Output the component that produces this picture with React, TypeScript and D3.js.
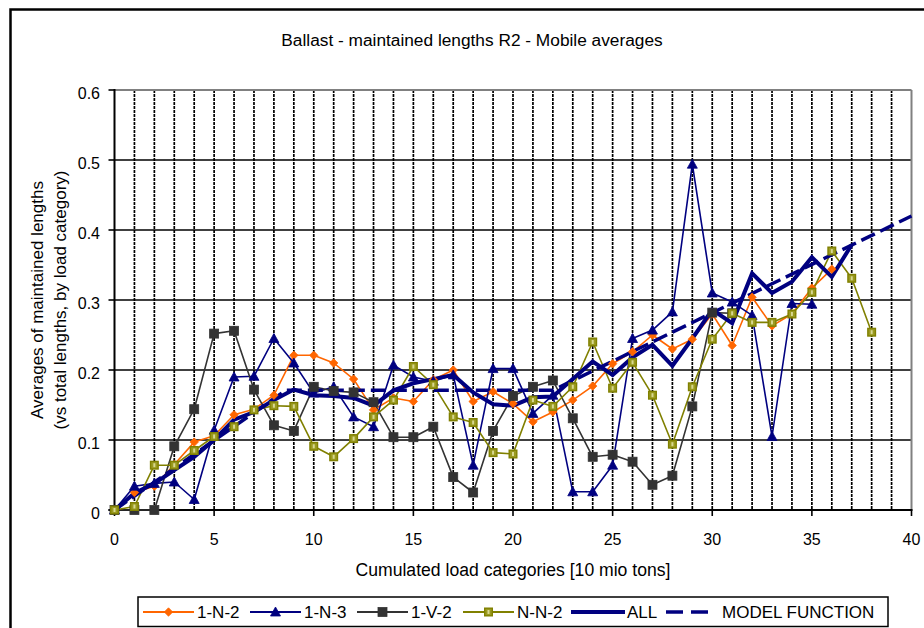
import React from "react";
import * as d3 from "d3";

const TITLE = "Ballast - maintained lengths R2 - Mobile averages";
const X_LABEL = "Cumulated load categories [10 mio tons]";
const Y_LABEL_1 = "Averages of maintained lengths";
const Y_LABEL_2 = "(vs total lengths, by load category)";

const xTicks = [0, 5, 10, 15, 20, 25, 30, 35, 40];
const yTicks = [0, 0.1, 0.2, 0.3, 0.4, 0.5, 0.6];

// values indexed by load category 0,1,2,...
const s1N2 = [0, 0.025, 0.034, 0.065, 0.097, 0.106, 0.136, 0.144, 0.164, 0.221, 0.221, 0.21, 0.187, 0.143, 0.16, 0.155, 0.186, 0.2, 0.155, 0.169, 0.152, 0.126, 0.14, 0.157, 0.177, 0.209, 0.226, 0.25, 0.23, 0.244, 0.28, 0.235, 0.304, 0.263, 0.28, 0.317, 0.344];
const s1N3 = [0, 0.034, 0.038, 0.04, 0.015, 0.114, 0.19, 0.191, 0.245, 0.21, 0.167, 0.176, 0.133, 0.119, 0.207, 0.19, 0.184, 0.193, 0.064, 0.202, 0.202, 0.138, 0.164, 0.026, 0.026, 0.064, 0.245, 0.257, 0.283, 0.494, 0.31, 0.297, 0.278, 0.105, 0.295, 0.294];
const s1V2 = [0, 0, 0, 0.091, 0.144, 0.252, 0.256, 0.172, 0.121, 0.113, 0.176, 0.17, 0.168, 0.154, 0.104, 0.104, 0.119, 0.047, 0.025, 0.113, 0.163, 0.176, 0.185, 0.131, 0.076, 0.079, 0.069, 0.036, 0.049, 0.148, 0.282, 0.281];
const sNN2 = [0, 0.005, 0.064, 0.064, 0.085, 0.105, 0.119, 0.143, 0.149, 0.148, 0.091, 0.076, 0.102, 0.133, 0.157, 0.205, 0.179, 0.133, 0.125, 0.082, 0.08, 0.157, 0.148, 0.176, 0.24, 0.174, 0.211, 0.164, 0.094, 0.176, 0.244, 0.281, 0.268, 0.268, 0.28, 0.311, 0.37, 0.331, 0.254];
const sALL = [0, 0.024, 0.038, 0.057, 0.076, 0.1, 0.129, 0.14, 0.157, 0.172, 0.164, 0.163, 0.16, 0.149, 0.171, 0.181, 0.187, 0.193, 0.168, 0.151, 0.149, 0.161, 0.162, 0.187, 0.212, 0.193, 0.218, 0.236, 0.206, 0.245, 0.286, 0.267, 0.338, 0.31, 0.326, 0.361, 0.333, 0.379];
const modelX = [0, 8.6, 22, 40];
const modelY = [0, 0.171, 0.171, 0.42];

const FONT = "Arial, 'Liberation Sans', sans-serif";

const x = d3.scaleLinear().domain([0, 40]).range([114.5, 911.5]);
const y = d3.scaleLinear().domain([0, 0.6]).range([510, 90]);

type Pt = [number, number];
const toPts = (arr: number[]): Pt[] => arr.map((v, i) => [i, v] as Pt);
const line = d3
  .line<Pt>()
  .x((d) => x(d[0]))
  .y((d) => y(d[1]));

function Marker({ kind, cx, cy }: { kind: string; cx: number; cy: number }) {
  if (kind === "diamond") {
    const r = 4.2;
    return (
      <path
        d={`M${cx},${cy - r}L${cx + r},${cy}L${cx},${cy + r}L${cx - r},${cy}Z`}
        fill="#FF6600"
        stroke="#FF6600"
        strokeWidth={0.8}
      />
    );
  }
  if (kind === "triangle") {
    const r = 5;
    return (
      <path
        d={`M${cx},${cy - r}L${cx + r},${cy + r * 0.8}L${cx - r},${cy + r * 0.8}Z`}
        fill="#000080"
        stroke="#000080"
        strokeWidth={0.8}
      />
    );
  }
  if (kind === "square") {
    const r = 4.5;
    return <rect x={cx - r} y={cy - r} width={2 * r} height={2 * r} fill="#333333" stroke="#333333" strokeWidth={0.8} />;
  }
  const r = 3.8;
  return (
    <g>
      <rect x={cx - r} y={cy - r} width={2 * r} height={2 * r} fill="#9a9a20" stroke="#808000" strokeWidth={1.4} />
      <rect x={cx - 1} y={cy - 2} width={2} height={4} fill="#d8d890" />
    </g>
  );
}

const series = [
  { name: "1-N-2", data: s1N2, color: "#FF6600", marker: "diamond", width: 1.6 },
  { name: "1-N-3", data: s1N3, color: "#000080", marker: "triangle", width: 1.6 },
  { name: "1-V-2", data: s1V2, color: "#333333", marker: "square", width: 1.6 },
  { name: "N-N-2", data: sNN2, color: "#808000", marker: "olive", width: 1.6 },
];

export default function App() {
  const modelPts: Pt[] = modelX.map((v, i) => [v, modelY[i]] as Pt);
  const vGrid = d3.range(1, 40);
  const legendY = 612;
  return (
    <svg
      width={924}
      height={628}
      style={{ position: "absolute", left: 0, top: 0, background: "#fff" }}
      fontFamily={FONT}
    >
      <rect x={0} y={0} width={924} height={628} fill="#fff" />
      {/* outer frame */}
      <path d="M10.5,640V9.5H940" fill="none" stroke="#000" strokeWidth={2.5} />

      {/* title */}
      <text x={472} y={46} textAnchor="middle" fontSize={17.3} fill="#000">
        {TITLE}
      </text>

      {/* grid */}
      {vGrid.map((v) => (
        <line key={"v" + v} x1={x(v)} x2={x(v)} y1={y(0.6)} y2={y(0)} stroke="#000" strokeWidth={1.7} strokeDasharray="3,1" />
      ))}
      {yTicks.slice(1, 6).map((v) => (
        <line key={"h" + v} x1={x(0)} x2={x(40)} y1={y(v)} y2={y(v)} stroke="#000" strokeWidth={1.7} />
      ))}
      <line x1={x(0)} x2={x(40)} y1={y(0.6)} y2={y(0.6)} stroke="#808080" strokeWidth={2} />
      <line x1={x(40)} x2={x(40)} y1={y(0.6)} y2={y(0)} stroke="#808080" strokeWidth={2} />

      {/* axes */}
      <line x1={x(0)} x2={x(0)} y1={y(0.6) - 1} y2={y(0)} stroke="#000" strokeWidth={2} />
      <line x1={x(0) - 6} x2={x(40) + 1} y1={y(0)} y2={y(0)} stroke="#000" strokeWidth={2} />
      {yTicks.map((v) => (
        <g key={"yt" + v}>
          <line x1={x(0) - 6} x2={x(0)} y1={y(v)} y2={y(v)} stroke="#000" strokeWidth={1.6} />
          <text x={100} y={y(v) + 9} textAnchor="end" fontSize={16}>
            {String(v)}
          </text>
        </g>
      ))}
      {xTicks.map((v) => (
        <g key={"xt" + v}>
          <line x1={x(v)} x2={x(v)} y1={y(0)} y2={y(0) + 6} stroke="#000" strokeWidth={1.6} />
          <text x={x(v)} y={545} textAnchor="middle" fontSize={16}>
            {String(v)}
          </text>
        </g>
      ))}

      {/* axis titles */}
      <text x={513} y={576} textAnchor="middle" fontSize={17.6}>
        {X_LABEL}
      </text>
      <text transform="translate(43,300) rotate(-90)" textAnchor="middle" fontSize={17}>
        {Y_LABEL_1}
      </text>
      <text transform="translate(66,300) rotate(-90)" textAnchor="middle" fontSize={17}>
        {Y_LABEL_2}
      </text>

      {/* series lines */}
      {series.map((s) => (
        <path key={"l" + s.name} d={line(toPts(s.data)) || ""} fill="none" stroke={s.color} strokeWidth={s.width} strokeLinejoin="round" />
      ))}
      <path d={line(toPts(sALL)) || ""} fill="none" stroke="#000080" strokeWidth={4} strokeLinejoin="miter" />
      <path d={line(modelPts) || ""} fill="none" stroke="#000080" strokeWidth={3.5} strokeDasharray="15,6" />

      {/* markers */}
      {series.map((s) => (
        <g key={"m" + s.name}>
          {toPts(s.data).map((p, i) => (
            <Marker key={i} kind={s.marker} cx={x(p[0])} cy={y(p[1])} />
          ))}
        </g>
      ))}

      {/* legend */}
      <rect x={138} y={597} width={750} height={29.5} fill="#fff" stroke="#000" strokeWidth={1.5} />
      {series.map((s, i) => {
        const lx = [143, 250, 357, 463][i];
        return (
          <g key={"lg" + s.name}>
            <line x1={lx} x2={lx + 51} y1={legendY} y2={legendY} stroke={s.color} strokeWidth={1.8} />
            <Marker kind={s.marker} cx={lx + 25.5} cy={legendY} />
            <text x={lx + 54} y={legendY + 6} fontSize={17}>
              {s.name}
            </text>
          </g>
        );
      })}
      <line x1={571} x2={625} y1={legendY} y2={legendY} stroke="#000080" strokeWidth={4} />
      <text x={627} y={legendY + 6} fontSize={17}>
        ALL
      </text>
      <line x1={666} x2={709} y1={legendY} y2={legendY} stroke="#000080" strokeWidth={3.5} strokeDasharray="17,8" />
      <text x={722} y={legendY + 6} fontSize={17}>
        MODEL FUNCTION
      </text>
    </svg>
  );
}
